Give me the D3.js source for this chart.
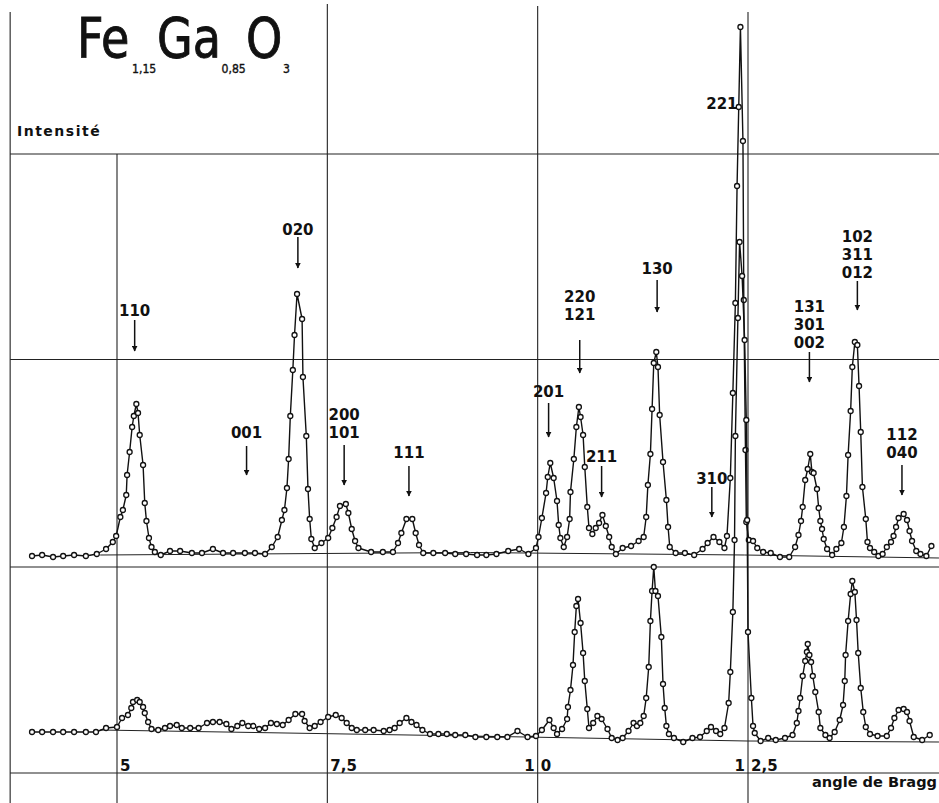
<!DOCTYPE html>
<html>
<head>
<meta charset="utf-8">
<script src="https://cdn.jsdelivr.net/npm/d3@7"></script>
<style>
  body { margin: 0; background: #fff; }
  text { font-family: "DejaVu Sans", sans-serif; fill: #111; }
</style>
</head>
<body>
<div id="chart"></div>
<script>

// upper trace: [angle de Bragg (deg), intensité]
var upperTrace = [
    [3.99,217],[4.11,218],[4.24,216],[4.36,217],[4.49,218],[4.63,217],[4.76,219],[4.87,224],[4.95,231],[4.99,237],
    [5.04,256],[5.07,263],[5.11,278],[5.12,298],[5.15,321],[5.18,346],[5.20,357],[5.23,369],[5.25,360],[5.27,338],
    [5.31,308],[5.33,270],[5.35,252],[5.38,235],[5.41,226],[5.45,221],[5.52,218],[5.63,222],[5.75,222],[5.89,220],
    [6.01,220],[6.14,224],[6.26,220],[6.38,220],[6.52,220],[6.64,220],[6.76,219],[6.84,226],[6.91,236],[6.96,253],
    [6.99,263],[7.02,285],[7.04,314],[7.06,357],[7.09,403],[7.11,438],[7.14,479],[7.20,454],[7.21,396],[7.25,337],
    [7.27,284],[7.29,254],[7.31,234],[7.35,225],[7.43,230],[7.51,235],[7.56,245],[7.61,256],[7.65,267],[7.72,269],
    [7.75,260],[7.79,244],[7.83,232],[7.87,225],[8.02,221],[8.16,221],[8.28,221],[8.34,230],[8.38,240],[8.44,254],
    [8.51,254],[8.55,240],[8.59,228],[8.64,220],[8.76,220],[8.90,220],[9.02,219],[9.15,219],[9.28,218],[9.39,218],
    [9.51,219],[9.65,222],[9.78,224],[9.89,219],[9.98,225],[10.01,236],[10.05,255],[10.10,280],[10.12,296],[10.15,310],
    [10.19,295],[10.23,272],[10.25,248],[10.27,235],[10.31,226],[10.35,236],[10.38,254],[10.39,281],[10.43,314],[10.46,346],
    [10.49,366],[10.51,356],[10.54,338],[10.56,306],[10.59,266],[10.61,245],[10.65,239],[10.69,245],[10.73,250],[10.77,258],
    [10.81,247],[10.85,236],[10.88,226],[10.93,219],[11.01,225],[11.11,227],[11.20,232],[11.26,236],[11.29,256],[11.31,288],
    [11.34,319],[11.36,364],[11.38,410],[11.41,421],[11.43,406],[11.45,358],[11.49,311],[11.53,273],[11.55,246],[11.57,226],
    [11.64,220],[11.75,220],[11.86,218],[11.96,224],[12.02,230],[12.09,236],[12.16,231],[12.22,225],[12.25,237],[12.29,295],
    [12.32,380],[12.35,470],[12.37,587],[12.39,666],[12.41,746],[12.44,632],[12.45,473],[12.47,323],[12.48,251],[12.51,233],
    [12.56,232],[12.61,225],[12.68,221],[12.77,220],[12.88,216],[12.99,216],[13.06,226],[13.10,238],[13.13,252],[13.15,266],
    [13.18,293],[13.21,304],[13.24,319],[13.26,301],[13.28,300],[13.32,284],[13.34,265],[13.36,252],[13.38,244],[13.40,234],
    [13.44,224],[13.50,218],[13.55,224],[13.61,230],[13.64,246],[13.67,277],[13.69,318],[13.72,362],[13.74,406],[13.77,431],
    [13.80,428],[13.82,387],[13.84,341],[13.86,286],[13.90,254],[13.92,231],[13.95,225],[14.00,221],[14.05,217],[14.10,219],
    [14.15,226],[14.20,231],[14.23,237],[14.26,246],[14.29,255],[14.35,259],[14.39,253],[14.42,242],[14.45,232],[14.50,222],
    [14.55,219],[14.62,217],[14.68,227]
];

// lower trace
var lowerTrace = [
    [3.99,41],[4.11,41],[4.24,41],[4.36,41],[4.49,41],[4.63,41],[4.75,41],[4.87,45],[5.00,46],[5.06,55],
    [5.13,58],[5.17,65],[5.19,71],[5.24,73],[5.27,71],[5.31,66],[5.33,60],[5.37,51],[5.41,44],[5.49,43],
    [5.57,45],[5.63,47],[5.71,48],[5.77,45],[5.87,45],[5.97,45],[6.07,50],[6.14,51],[6.22,51],[6.30,49],
    [6.36,44],[6.43,47],[6.49,50],[6.56,47],[6.62,47],[6.69,44],[6.76,45],[6.83,50],[6.90,49],[6.97,48],
    [7.04,53],[7.12,59],[7.20,59],[7.23,52],[7.29,45],[7.35,47],[7.42,51],[7.51,56],[7.60,58],[7.67,55],
    [7.73,50],[7.79,45],[7.85,43],[7.95,43],[8.05,43],[8.17,42],[8.24,43],[8.30,45],[8.36,50],[8.44,55],
    [8.50,51],[8.56,48],[8.63,43],[8.72,39],[8.82,39],[8.92,39],[9.02,38],[9.14,38],[9.26,36],[9.39,36],
    [9.52,36],[9.64,36],[9.76,42],[9.88,36],[9.98,37],[10.05,43],[10.14,53],[10.19,45],[10.23,39],[10.29,44],
    [10.35,54],[10.36,66],[10.39,83],[10.42,108],[10.44,141],[10.46,167],[10.48,174],[10.51,150],[10.54,120],[10.56,92],
    [10.59,64],[10.61,45],[10.66,50],[10.71,57],[10.76,54],[10.83,44],[10.88,35],[10.95,33],[11.01,35],[11.08,42],
    [11.14,50],[11.18,47],[11.22,50],[11.26,57],[11.29,75],[11.32,106],[11.34,152],[11.36,182],[11.38,206],[11.40,182],
    [11.43,177],[11.47,136],[11.49,89],[11.51,65],[11.53,47],[11.56,39],[11.62,35],[11.73,31],[11.84,35],[11.93,36],
    [12.01,42],[12.06,46],[12.12,42],[12.17,39],[12.22,45],[12.27,70],[12.29,101],[12.32,161],[12.34,233],[12.35,337],
    [12.38,455],[12.40,531],[12.43,497],[12.46,433],[12.48,353],[12.49,253],[12.50,141],[12.54,75],[12.56,47],[12.58,40],
    [12.65,32],[12.74,35],[12.83,33],[12.94,35],[13.03,38],[13.08,50],[13.10,62],[13.12,75],[13.15,97],[13.18,112],
    [13.20,121],[13.21,129],[13.23,118],[13.25,111],[13.27,97],[13.30,81],[13.34,61],[13.36,45],[13.42,38],[13.47,35],
    [13.53,41],[13.59,53],[13.63,68],[13.65,92],[13.66,118],[13.69,152],[13.72,179],[13.74,192],[13.77,181],[13.79,153],
    [13.81,120],[13.84,85],[13.87,61],[13.90,46],[13.95,39],[14.04,37],[14.15,37],[14.20,45],[14.24,55],[14.29,63],
    [14.35,64],[14.39,61],[14.42,52],[14.47,36],[14.57,33],[14.66,38]
];

// straight background lines drawn under each trace
var upperBase = [[4.80,218],[9.20,220.5],[12.46,218],[14.77,215]];
var lowerBase = [[4.80,43],[9.20,37],[12.49,32],[14.77,31]];

// paper grid
var gridLevels = [0, 206, 413.5, 619];
var tickValues = [5, 7.5, 10, 12.5];
var tickLabels = ["5", "7,5", "10", "12,5"];
var tickTops = [619, 769, 767, 761];
var frameLeft = 3.73, frameTop = 761;

// formula parts: symbol and its index
var formula = [["Fe", "1,15"], ["Ga", "0,85"], ["O", "3"]];

// reflections: hkl, angle, label level, arrow start, arrow tip
var reflections = [
    {hkl: ["110"], theta: 5.21, label: 463, from: 453, to: 422},
    {hkl: ["020"], theta: 7.15, label: 544, from: 536, to: 505},
    {hkl: ["001"], theta: 6.54, label: 341, from: 327, to: 298},
    {hkl: ["200", "101"], theta: 7.70, label: 359, from: 328, to: 288},
    {hkl: ["111"], theta: 8.47, label: 321, from: 307, to: 277},
    {hkl: ["201"], theta: 10.13, label: 382, from: 370, to: 336},
    {hkl: ["220", "121"], theta: 10.50, label: 477, from: 433, to: 400},
    {hkl: ["211"], theta: 10.76, label: 317, from: 307, to: 276},
    {hkl: ["130"], theta: 11.42, label: 505, from: 493, to: 461},
    {hkl: ["310"], theta: 12.07, label: 295, from: 286, to: 256},
    {hkl: ["221"], theta: 12.19, label: 670, from: null, to: null},
    {hkl: ["131", "301", "002"], theta: 13.23, label: 467, from: 421, to: 391},
    {hkl: ["102", "311", "012"], theta: 13.80, label: 537, from: 492, to: 463},
    {hkl: ["112", "040"], theta: 14.33, label: 339, from: 308, to: 278}
];

const width = 939, height = 803;

const svg = d3.select("#chart")
    .append("svg")
    .attr("width", width)
    .attr("height", height);

var xScale = d3.scaleLinear()
    .domain([5, 12.5])
    .range([117, 748]);

var yScale = d3.scaleLinear()
    .domain([0, 773])
    .range([773, 0]);

svg.append("defs").append("marker")
    .attr("id", "head")
    .attr("viewBox", "0 0 10 10")
    .attr("refX", 9).attr("refY", 5)
    .attr("markerWidth", 4).attr("markerHeight", 4)
    .attr("orient", "auto")
    .append("path")
    .attr("d", "M0,0 L10,5 L0,10 z")
    .style("fill", "#111");

// grid
var grid = svg.append("g").attr("class", "grid")
    .style("stroke", "#222").style("stroke-width", 1.1);

grid.selectAll("line.h")
    .data(gridLevels)
    .enter().append("line")
    .attr("class", "h")
    .attr("x1", xScale(frameLeft)).attr("x2", width)
    .attr("y1", function (d) { return yScale(d); })
    .attr("y2", function (d) { return yScale(d); });

grid.selectAll("line.v")
    .data(tickValues)
    .enter().append("line")
    .attr("class", "v")
    .attr("x1", function (d) { return xScale(d); })
    .attr("x2", function (d) { return xScale(d); })
    .attr("y1", function (d, i) { return yScale(tickTops[i]); })
    .attr("y2", height);

grid.append("line")
    .attr("x1", xScale(frameLeft)).attr("x2", xScale(frameLeft))
    .attr("y1", yScale(frameTop)).attr("y2", height);

// tick labels, the "1" of 10 and 12,5 sits left of the line
var ticks = svg.append("g").attr("class", "ticks")
    .style("font-size", "15px").style("font-weight", "bold");
tickValues.forEach(function (v, i) {
    var lab = tickLabels[i];
    if (v >= 10) {
        ticks.append("text").attr("x", xScale(v) - 3).attr("y", 771)
            .attr("text-anchor", "end").text(lab.substring(0, 1));
        ticks.append("text").attr("x", xScale(v) + 3).attr("y", 771)
            .text(lab.substring(1));
    } else {
        ticks.append("text").attr("x", xScale(v) + 3).attr("y", 771).text(lab);
    }
});

svg.append("text")
    .attr("x", 812).attr("y", 787)
    .style("font-size", "14px")
    .style("font-weight", "bold")
    .attr("textLength", 125).attr("lengthAdjust", "spacingAndGlyphs")
    .text("angle de Bragg");

svg.append("text")
    .attr("x", 17).attr("y", 136)
    .style("font-size", "14px")
    .style("font-weight", "bold")
    .style("letter-spacing", "1.5px")
    .text("Intensité");

// title: one text, narrowed, with lowered indices
var sx = 0.84;
var title = svg.append("text")
    .attr("transform", "scale(" + sx + ",1)")
    .style("stroke", "#111").style("stroke-width", 0.9);
var symX = [77, 157, 246], subX = [132, 221.5, 283];
formula.forEach(function (f, i) {
    title.append("tspan")
        .attr("x", symX[i] / sx).attr("y", 57)
        .style("font-size", "55px")
        .text(f[0]);
    title.append("tspan")
        .attr("x", subX[i] / sx).attr("y", 73)
        .style("font-size", "13px")
        .style("stroke-width", 0.4)
        .text(f[1]);
});

// traces
var line = d3.line()
    .x(function (d) { return xScale(d[0]); })
    .y(function (d) { return yScale(d[1]); });

[upperBase, lowerBase].forEach(function (b) {
    svg.append("path").datum(b)
        .attr("d", line)
        .style("fill", "none").style("stroke", "#222").style("stroke-width", 1);
});

[upperTrace, lowerTrace].forEach(function (tr, k) {
    var g = svg.append("g").attr("class", "trace-" + k);
    g.append("path").datum(tr)
        .attr("d", line)
        .style("fill", "none")
        .style("stroke", "#111")
        .style("stroke-width", 1.4)
        .style("stroke-linejoin", "round");
    g.selectAll("circle")
        .data(tr)
        .enter().append("circle")
        .attr("cx", function (d) { return xScale(d[0]); })
        .attr("cy", function (d) { return yScale(d[1]); })
        .attr("r", 2.5)
        .style("fill", "#fff")
        .style("stroke", "#111")
        .style("stroke-width", 1.3);
});

// reflection labels and arrows
var refl = svg.append("g").attr("class", "reflections");
reflections.forEach(function (r) {
    r.hkl.forEach(function (s, j) {
        refl.append("text")
            .attr("x", xScale(r.theta))
            .attr("y", yScale(r.label) + 6 + j * 18)
            .attr("text-anchor", "middle")
            .style("font-size", "15px")
            .style("font-weight", "bold")
            .text(s);
    });
    if (r.from !== null) {
        refl.append("line")
            .attr("x1", xScale(r.theta)).attr("x2", xScale(r.theta))
            .attr("y1", yScale(r.from)).attr("y2", yScale(r.to))
            .style("stroke", "#111").style("stroke-width", 1.5)
            .attr("marker-end", "url(#head)");
    }
});

</script>
</body>
</html>
